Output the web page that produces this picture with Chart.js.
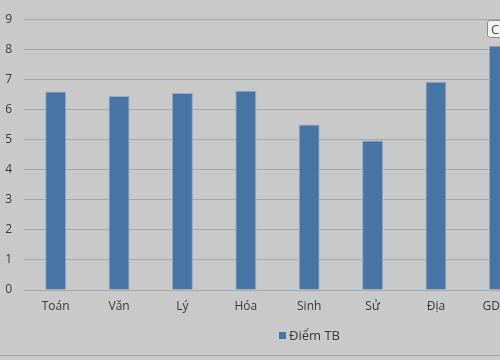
<!DOCTYPE html>
<html>
<head>
<meta charset="utf-8">
<script src="https://cdn.jsdelivr.net/npm/chart.js@4/dist/chart.umd.min.js"></script>
<style>
  html, body { margin:0; padding:0; width:500px; height:360px; overflow:hidden; background:#c9c9c9; }
  #wrap { position:absolute; left:0; top:0; width:610px; height:360px; }
  #legend { position:absolute; left:279px; top:326px; font:13px "Open Sans", sans-serif; color:#3a3a3a; }
  #legend span.box { display:inline-block; width:7px; height:7px; background:#4675a5; margin-right:3px; vertical-align:1px; }
  #bottomLine { position:absolute; left:0; top:355px; width:500px; height:1px; background:#a6a6a6; }
  #tag { position:absolute; left:487px; top:20px; width:20px; height:16px; background:#f4f4f4; border:1px solid #8c8c8c; border-radius:3px; font:13px "Open Sans", sans-serif; color:#444; padding-left:3px; line-height:16px; }
</style>
</head>
<body>
<div id="wrap"><canvas id="bar-chart" width="610" height="360"></canvas></div>
<div id="legend"><span class="box"></span>Điểm TB</div>
<div id="bottomLine"></div>
<div id="tag">C</div>
<script>
  // dữ liệu
  let subjects = ["Toán", "Văn", "Lý", "Hóa", "Sinh", "Sử", "Địa", "GDCD"]
  let diemTB = [6.6, 6.45, 6.55, 6.62, 5.5, 4.97, 6.92, 8.12]
  let yTicks = [0, 1, 2, 3, 4, 5, 6, 7, 8, 9]

  new Chart(document.getElementById("bar-chart"), {
    type: 'bar',
    data: {
      labels: subjects,
      datasets: [{
        label: "Điểm TB",
        backgroundColor: "#4675a5",
        borderColor: "#8fa9c6",
        borderWidth: 1,
        barPercentage: 1,
        categoryPercentage: 0.33,
        data: diemTB
      }]
    },
    options: {
      responsive: false,
      animation: false,
      layout: { padding: { top: 13, right: 79, left: 0, bottom: 0 } },
      plugins: {
        legend: { display: false },
        tooltip: { enabled: false }
      },
      scales: {
        x: {
          grid: { display: false, drawTicks: false },
          border: { display: false },
          ticks: { color: "#3a3a3a", font: { family: "Open Sans", size: 12 }, padding: 9, maxRotation: 0 },
          afterFit: function(scale) { scale.height = 70 }
        },
        y: {
          min: 0,
          max: yTicks[yTicks.length - 1],
          afterBuildTicks: function(scale) { scale.ticks = yTicks.map(v => ({ value: v })) },
          grid: { color: "#a8a8a8", lineWidth: 1, drawTicks: false },
          border: { display: false },
          ticks: { color: "#3a3a3a", font: { family: "Open Sans", size: 12 }, padding: 12 },
          afterFit: function(scale) { scale.width = 24 }
        }
      }
    }
  });
</script>
</body>
</html>
